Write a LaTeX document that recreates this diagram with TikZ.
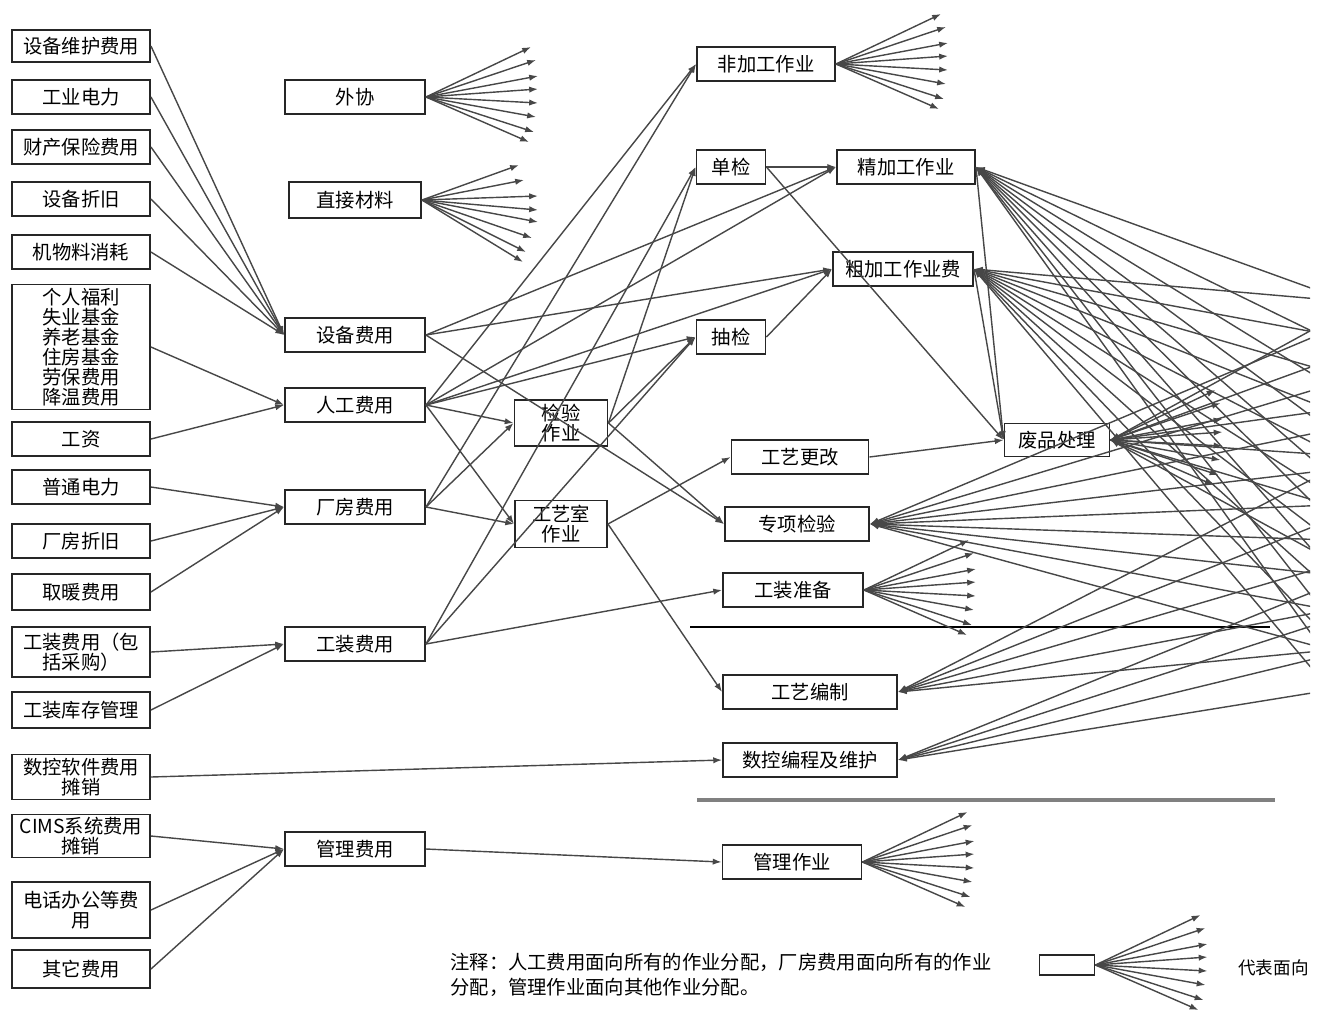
\documentclass[tikz,border=0pt]{standalone}
\usepackage{fontspec}
\newfontfamily\cjk{Noto Sans CJK SC}
\usetikzlibrary{arrows.meta}

\tikzset{
  box/.style={draw=black!85, line width=1.1pt, fill=white, inner sep=1pt,
    font=\cjk\fontsize{11}{11.4}\selectfont, align=center, minimum height=0.68cm},
  costbox/.style={box, minimum width=2.76cm},
  poolbox/.style={box, minimum width=2.8cm},
  flow/.style={-{Latex[length=5pt,width=3.6pt]}, line width=0.8pt, draw=black!72},
}

% fan of arrows leaving a node to the right
\def\fanstd{105/-50,110/-37,112/-21,112/-8,112/6,110/20,108/35,103/45}
\def\fanlow{97/-35,102/-20,116/-4,116/10,116/22,110/38,104/52,101/62}
\newcommand{\fanout}[2]{%
  \foreach \dx/\dy [count=\k] in #2 {
    \path (#1.east) ++(\dx,\dy) coordinate (#1-t\k);
    \draw[flow] (#1.east) -- (#1-t\k);
  }}

\begin{document}
\begin{tikzpicture}[x=0.02cm, y=-0.02cm]
\useasboundingbox (0,0) rectangle (1321,1019);

% cost elements
\node[costbox, minimum height=0.64cm] (sbwh) at (81,46) {设备维护费用};
\node[costbox] (gydl) at (81,97) {工业电力};
\node[costbox] (ccbx) at (81,147) {财产保险费用};
\node[costbox] (sbzj) at (81,199) {设备折旧};
\node[costbox] (wlxh) at (81,252) {机物料消耗};
\node[costbox, minimum height=2.5cm] (flj) at (81,347) {个人福利\\失业基金\\养老基金\\住房基金\\劳保费用\\降温费用};
\node[costbox] (gz) at (81,439) {工资};
\node[costbox] (ptdl) at (81,487) {普通电力};
\node[costbox] (cfzj) at (81,541) {厂房折旧};
\node[costbox, minimum height=0.72cm] (qn) at (81,592) {取暖费用};
\node[costbox, minimum height=1cm] (gzcg) at (81,652) {工装费用（包\\括采购）};
\node[costbox, minimum height=0.72cm] (gzkc) at (81,710) {工装库存管理};
\node[costbox, minimum height=0.9cm] (skrj) at (81,777) {数控软件费用\\摊销};
\node[costbox, minimum height=0.86cm] (cims) at (81,836) {CIMS系统费用\\摊销};
\node[costbox, minimum height=1.12cm] (dhbg) at (81,910) {电话办公等费\\用};
\node[costbox, minimum height=0.76cm] (qt) at (81,969) {其它费用};

% resource pools
\node[poolbox] (wx) at (355,97) {外协};
\node[box, minimum width=2.64cm, minimum height=0.72cm] (zjcl) at (355,200) {直接材料};
\node[poolbox] (sbfy) at (355,335) {设备费用};
\node[poolbox] (rgfy) at (355,405) {人工费用};
\node[poolbox] (cffy) at (355,507) {厂房费用};
\node[poolbox] (gzf) at (355,644) {工装费用};
\node[poolbox] (glfy) at (355,849) {管理费用};

% centre activities
\node[box, minimum width=1.86cm, minimum height=0.92cm] (jyzy) at (561,423) {检验\\作业};
\node[box, minimum width=1.84cm, minimum height=0.94cm] (gyszy) at (561,524) {工艺室\\作业};

% activities
\node[box, minimum width=2.76cm] (fjg) at (766,64) {非加工作业};
\node[box, minimum width=1.38cm] (dj) at (731,167) {单检};
\node[box, minimum width=2.76cm] (jjg) at (906,167) {精加工作业};
\node[box, minimum width=2.8cm] (cjg) at (903,269) {粗加工作业费};
\node[box, minimum width=1.38cm] (cj) at (731,337) {抽检};
\node[box, minimum width=2.1cm, minimum height=0.66cm] (fpcl) at (1057,440) {废品处理};
\node[box, minimum width=2.74cm] (gygg) at (800,457) {工艺更改};
\node[box, minimum width=2.88cm] (zxjy) at (797,524) {专项检验};
\node[box, minimum width=2.8cm] (gzzb) at (793,590) {工装准备};
\node[box, minimum width=3.48cm] (gybz) at (810,692) {工艺编制};
\node[box, minimum width=3.48cm] (skbc) at (810,760) {数控编程及维护};
\node[box, minimum width=2.78cm] (glzy) at (792,862) {管理作业};

% separators
\draw[line width=0.8pt] (690,627) -- (1270,627);
\draw[line width=2pt, black!50] (697,800) -- (1275,800);

% cost elements to pools
\foreach \src in {sbwh,gydl,ccbx,sbzj,wlxh} \draw[flow] (\src.east) -- (sbfy.west);
\foreach \src in {flj,gz} \draw[flow] (\src.east) -- (rgfy.west);
\foreach \src in {ptdl,cfzj,qn} \draw[flow] (\src.east) -- (cffy.west);
\foreach \src in {gzcg,gzkc} \draw[flow] (\src.east) -- (gzf.west);
\foreach \src in {cims,dhbg,qt} \draw[flow] (\src.east) -- (glfy.west);
\draw[flow] (skrj.east) -- (skbc.west);
\draw[flow] (glfy.east) -- (glzy.west);

% pools to activities
\foreach \dst in {fjg,jjg,cjg,cj,jyzy,gyszy} \draw[flow] (rgfy.east) -- (\dst.west);
\foreach \dst in {fjg,jyzy,gyszy} \draw[flow] (cffy.east) -- (\dst.west);
\foreach \dst in {dj,cj,gzzb} \draw[flow] (gzf.east) -- (\dst.west);
\foreach \dst in {jjg,cjg,zxjy} \draw[flow] (sbfy.east) -- (\dst.west);
\foreach \dst in {dj,cj,zxjy} \draw[flow] (jyzy.east) -- (\dst.west);
\foreach \dst in {gygg,gybz} \draw[flow] (gyszy.east) -- (\dst.west);
\draw[flow] (dj.east) -- (jjg.west);
\draw[flow] (dj.east) -- (fpcl.west);
\draw[flow] (cj.east) -- (cjg.west);
\foreach \src in {jjg,cjg,gygg} \draw[flow] (\src.east) -- (fpcl.west);

% fans
\fanout{wx}{\fanstd}
\fanout{zjcl}{\fanlow}
\fanout{fjg}{\fanstd}
\fanout{gzzb}{\fanstd}
\fanout{glzy}{\fanstd}
\fanout{fpcl}{\fanstd}

% lines from beyond the right edge
\begin{scope}
  \clip (0,0) rectangle (1310,1019);
  \foreach \y [count=\k] in {295,340,385,430,475,520,570,620,660}
    {\coordinate (ja\k) at (1330,\y); \draw[flow] (ja\k) -- (jjg.east);}
  \foreach \y [count=\k] in {300,335,372,410,452,495,540,590,640,690}
    {\coordinate (ca\k) at (1330,\y); \draw[flow] (ca\k) -- (cjg.east);}
  \foreach \y [count=\k] in {320,360,410,455,505,560}
    {\coordinate (fa\k) at (1330,\y); \draw[flow] (fa\k) -- (fpcl.east);}
  \foreach \y [count=\k] in {330,385,430,470,505,540,575,610,650}
    {\coordinate (za\k) at (1330,\y); \draw[flow] (za\k) -- (zxjy.east);}
  \foreach \y [count=\k] in {470,520,565,610,650}
    {\coordinate (ga\k) at (1330,\y); \draw[flow] (ga\k) -- (gybz.east);}
  \foreach \y [count=\k] in {585,620,655,690}
    {\coordinate (sa\k) at (1330,\y); \draw[flow] (sa\k) -- (skbc.east);}
\end{scope}

% legend
\node[box, minimum width=1.1cm, minimum height=0.4cm] (lgd) at (1067,965) {};
\fanout{lgd}{\fanstd}
\node[anchor=west, inner sep=0pt, font=\cjk\fontsize{10}{14}\selectfont] (lgdtext) at (1238,968) {代表面向};

% note
\node[anchor=north west, align=left, inner sep=0pt, font=\cjk\fontsize{11}{14}\selectfont] (note) at (450,953)
  {注释：人工费用面向所有的作业分配，厂房费用面向所有的作业\\分配，管理作业面向其他作业分配。};

\end{tikzpicture}
\end{document}
